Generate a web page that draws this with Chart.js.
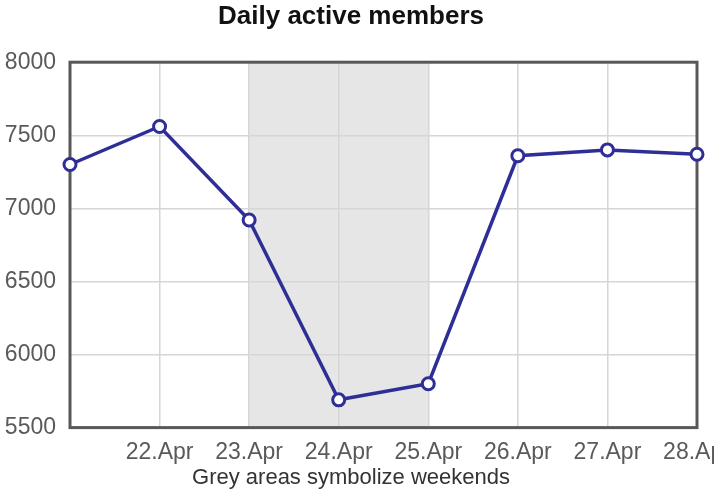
<!DOCTYPE html>
<html>
<head>
<meta charset="utf-8">
<script src="https://cdn.jsdelivr.net/npm/chart.js@4"></script>
<style>
  html, body { margin: 0; padding: 0; background: #ffffff; overflow: hidden; }
  #wrap { width: 714px; height: 493px; }
</style>
</head>
<body>
<div id="wrap"><canvas id="membersChart"></canvas></div>
<script>
const days = ['21.Apr', '22.Apr', '23.Apr', '24.Apr', '25.Apr', '26.Apr', '27.Apr', '28.Apr'];
const activeMembers = [7300, 7560, 6920, 5690, 5800, 7360, 7400, 7370];
const yTicks = [5500, 6000, 6500, 7000, 7500, 8000];
const weekends = [['23.Apr', '25.Apr']];

const lineColor = '#2e2e96';
const gridColor = '#d6d6d6';
const frameColor = '#585858';
const tickColor = '#5a5a5a';
const fontFamily = '"Liberation Sans", Arial, sans-serif';

// grey weekend bands, drawn under the grid
const weekendBands = {
    id: 'weekendBands',
    beforeDraw(chart) {
        const { ctx, chartArea, scales } = chart;
        ctx.save();
        ctx.fillStyle = '#e6e6e6';
        weekends.forEach(w => {
            const x1 = scales.x.getPixelForValue(days.indexOf(w[0]));
            const x2 = scales.x.getPixelForValue(days.indexOf(w[1]));
            ctx.fillRect(x1, chartArea.top, x2 - x1, chartArea.bottom - chartArea.top);
        });
        ctx.restore();
    }
};

// dark frame around the plot area
const plotFrame = {
    id: 'plotFrame',
    beforeDatasetsDraw(chart) {
        const { ctx, chartArea } = chart;
        ctx.save();
        ctx.strokeStyle = frameColor;
        ctx.lineWidth = 3;
        ctx.strokeRect(chartArea.left, chartArea.top, chartArea.right - chartArea.left, chartArea.bottom - chartArea.top);
        ctx.restore();
    }
};

const ctx = document.getElementById('membersChart').getContext('2d');
new Chart(ctx, {
    type: 'line',
    data: {
        labels: days,
        datasets: [{
            data: activeMembers,
            borderColor: lineColor,
            borderWidth: 3.5,
            tension: 0,
            pointRadius: 6,
            pointBorderWidth: 3,
            pointBackgroundColor: '#ffffff',
            pointBorderColor: lineColor,
            clip: false
        }]
    },
    options: {
        responsive: true,
        maintainAspectRatio: false,
        animation: false,
        layout: {
            padding: { left: 5, right: 17, top: 0, bottom: 0 }
        },
        plugins: {
            legend: { display: false },
            tooltip: { enabled: false },
            title: {
                display: true,
                text: 'Daily active members',
                color: '#111111',
                font: { family: fontFamily, size: 26, weight: 'bold' },
                padding: { top: 1, bottom: 30 }
            },
            subtitle: {
                display: true,
                position: 'bottom',
                text: 'Grey areas symbolize weekends',
                color: '#333333',
                font: { family: fontFamily, size: 22 },
                padding: { top: 0, bottom: 2 }
            }
        },
        scales: {
            x: {
                offset: false,
                afterFit: axis => {
                    // let the last label run off the edge like the original
                    axis.paddingLeft = 0;
                    axis.paddingRight = 0;
                    axis.height = 37;
                },
                grid: { color: gridColor, lineWidth: 1.5, drawTicks: false },
                border: { display: false },
                ticks: {
                    color: tickColor,
                    padding: 11,
                    maxRotation: 0,
                    autoSkip: false,
                    font: { family: fontFamily, size: 23 },
                    callback: (v, i) => i === 0 ? '' : days[i]
                }
            },
            y: {
                min: yTicks[0],
                max: yTicks[yTicks.length - 1],
                afterBuildTicks: axis => { axis.ticks = yTicks.map(v => ({ value: v })); },
                afterFit: axis => { axis.width = 65; },
                grid: { color: gridColor, lineWidth: 1.5, drawTicks: false },
                border: { display: false },
                ticks: {
                    color: tickColor,
                    padding: 14,
                    font: { family: fontFamily, size: 23 },
                    callback: v => String(v)
                }
            }
        }
    },
    plugins: [weekendBands, plotFrame]
});
</script>
</body>
</html>
